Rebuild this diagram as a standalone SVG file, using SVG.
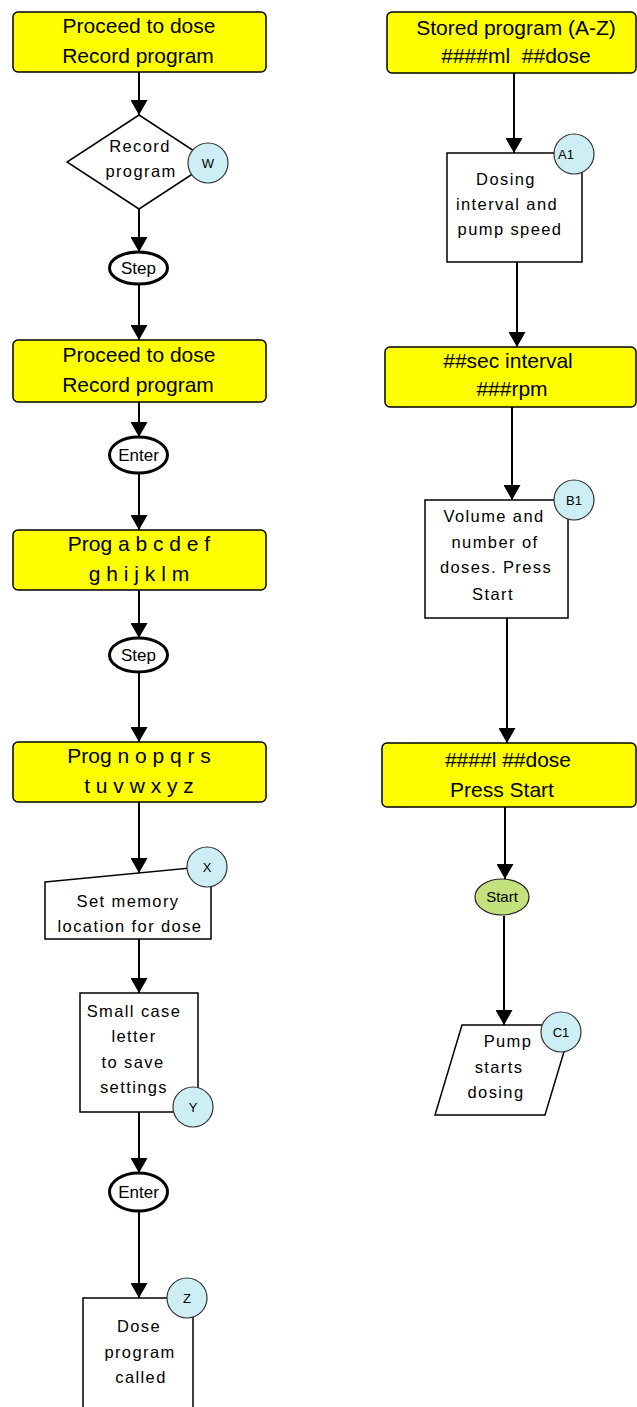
<svg xmlns="http://www.w3.org/2000/svg" width="637" height="1407" viewBox="0 0 637 1407">
<style>
text{font-family:"Liberation Sans",Arial,sans-serif;fill:#000;text-anchor:middle}
.yb{fill:#ffff00;stroke:#000;stroke-width:1.5}
.yt{font-size:21px}
.wb{fill:#fff;stroke:#000;stroke-width:1.5}
.wt{font-size:16.5px;letter-spacing:1.4px}
.ov{fill:#fff;stroke:#000;stroke-width:3}
.ot{font-size:17px}
.cc{fill:#cdeef4;stroke:#333;stroke-width:1.2}
.ct{font-size:13px}
.ln{stroke:#000;stroke-width:2;fill:none;marker-end:url(#ah)}
</style>
<defs>
<marker id="ah" markerUnits="userSpaceOnUse" markerWidth="16" markerHeight="17" viewBox="0 0 15 17" refX="15" refY="8.5" orient="auto">
<path d="M0,0 L15,8.5 L0,17 z" fill="#000"/>
</marker>
</defs>
<g id="connectors">
<line class="ln" x1="139" y1="72" x2="139" y2="115"/>
<line class="ln" x1="139" y1="209" x2="139" y2="252"/>
<line class="ln" x1="139" y1="284" x2="139" y2="340"/>
<line class="ln" x1="139" y1="402" x2="139" y2="437"/>
<line class="ln" x1="139" y1="473" x2="139" y2="530"/>
<line class="ln" x1="139" y1="590" x2="139" y2="638"/>
<line class="ln" x1="139" y1="673" x2="139" y2="742"/>
<line class="ln" x1="139" y1="802" x2="139" y2="873"/>
<line class="ln" x1="139" y1="939" x2="139" y2="993"/>
<line class="ln" x1="139" y1="1112" x2="139" y2="1173"/>
<line class="ln" x1="139" y1="1211" x2="139" y2="1298"/>
<line class="ln" x1="514" y1="73" x2="514" y2="153"/>
<line class="ln" x1="517" y1="262" x2="517" y2="347"/>
<line class="ln" x1="512" y1="407" x2="512" y2="500"/>
<line class="ln" x1="507" y1="618" x2="507" y2="743"/>
<line class="ln" x1="505" y1="807" x2="505" y2="879"/>
<line class="ln" x1="504" y1="916" x2="504" y2="1025"/>
</g>
<g id="n1">
<rect class="yb" x="13" y="12" width="253" height="60" rx="5"/>
<text class="yt" x="139" y="33">Proceed to dose</text>
<text class="yt" x="138" y="63">Record program</text>
</g>
<g id="n2">
<polygon class="wb" points="139,115 211,162 139,209 67,162"/>
<text class="wt" x="140" y="152">Record</text>
<text class="wt" x="141" y="177">program</text>
</g>
<g id="cW">
<circle class="cc" cx="208" cy="163" r="20"/>
<text class="ct" x="208" y="168">W</text>
</g>
<g id="n3">
<ellipse class="ov" cx="138.5" cy="268" rx="29" ry="16"/>
<text class="ot" x="138.5" y="274">Step</text>
</g>
<g id="n4">
<rect class="yb" x="13" y="340" width="253" height="62" rx="5"/>
<text class="yt" x="139" y="362">Proceed to dose</text>
<text class="yt" x="138" y="392">Record program</text>
</g>
<g id="n5">
<ellipse class="ov" cx="138.5" cy="455" rx="29" ry="18"/>
<text class="ot" x="138.5" y="461">Enter</text>
</g>
<g id="n6">
<rect class="yb" x="13" y="530" width="253" height="60" rx="5"/>
<text class="yt" x="139" y="551">Prog a b c d e f</text>
<text class="yt" x="139" y="581">g h i j k l m</text>
</g>
<g id="n7">
<ellipse class="ov" cx="138.5" cy="655" rx="29" ry="17"/>
<text class="ot" x="138.5" y="661">Step</text>
</g>
<g id="n8">
<rect class="yb" x="13" y="742" width="253" height="60" rx="5"/>
<text class="yt" x="139" y="763">Prog n o p q r s</text>
<text class="yt" x="139" y="793">t u v w x y z</text>
</g>
<g id="n9">
<polygon class="wb" points="45,882 211,866 211,939 45,939"/>
<text class="wt" x="128" y="907">Set memory</text>
<text class="wt" x="130" y="932">location for dose</text>
</g>
<g id="cX">
<circle class="cc" cx="207" cy="867" r="20"/>
<text class="ct" x="207" y="872">X</text>
</g>
<g id="n10">
<rect class="wb" x="80" y="993" width="118" height="119"/>
<text class="wt" x="134" y="1017">Small case</text>
<text class="wt" x="134" y="1042">letter</text>
<text class="wt" x="133" y="1068">to save</text>
<text class="wt" x="134" y="1093">settings</text>
</g>
<g id="cY">
<circle class="cc" cx="193" cy="1107" r="20"/>
<text class="ct" x="193" y="1112">Y</text>
</g>
<g id="n11">
<ellipse class="ov" cx="138.5" cy="1192" rx="29" ry="19"/>
<text class="ot" x="138.5" y="1198">Enter</text>
</g>
<g id="n12">
<rect class="wb" x="83" y="1298" width="110" height="130"/>
<text class="wt" x="139" y="1332">Dose</text>
<text class="wt" x="140" y="1358">program</text>
<text class="wt" x="141" y="1383">called</text>
</g>
<g id="cZ">
<circle class="cc" cx="187" cy="1298" r="20"/>
<text class="ct" x="187" y="1303">Z</text>
</g>
<g id="r1">
<rect class="yb" x="387" y="12" width="249" height="61" rx="5"/>
<text class="yt" x="516" y="35">Stored program (A-Z)</text>
<text class="yt" x="516" y="63" xml:space="preserve">####ml  ##dose</text>
</g>
<g id="r2">
<rect class="wb" x="447" y="153" width="135" height="109"/>
<text class="wt" x="506" y="185">Dosing</text>
<text class="wt" x="507" y="210">interval and</text>
<text class="wt" x="510" y="235">pump speed</text>
</g>
<g id="cA1">
<circle class="cc" cx="574" cy="154" r="20"/>
<text class="ct" x="566" y="159">A1</text>
</g>
<g id="r3">
<rect class="yb" x="385" y="347" width="251" height="60" rx="5"/>
<text class="yt" x="508" y="368">##sec interval</text>
<text class="yt" x="512" y="396">###rpm</text>
</g>
<g id="r4">
<rect class="wb" x="425" y="500" width="143" height="118"/>
<text class="wt" x="494" y="522">Volume and</text>
<text class="wt" x="495" y="548">number of</text>
<text class="wt" x="496" y="573">doses. Press</text>
<text class="wt" x="493" y="600">Start</text>
</g>
<g id="cB1">
<circle class="cc" cx="574" cy="500" r="20"/>
<text class="ct" x="574" y="505">B1</text>
</g>
<g id="r5">
<rect class="yb" x="382" y="743" width="254" height="64" rx="5"/>
<text class="yt" x="508" y="767">####l ##dose</text>
<text class="yt" x="502" y="797">Press Start</text>
</g>
<g id="r6">
<ellipse cx="502" cy="897" rx="27" ry="18" fill="#c3e27e" stroke="#222" stroke-width="1.2"/>
<text x="502" y="902" style="font-size:15px">Start</text>
</g>
<g id="r7">
<polygon class="wb" points="462,1025 572,1025 545,1115 435,1115"/>
<text class="wt" x="508" y="1047">Pump</text>
<text class="wt" x="499" y="1073">starts</text>
<text class="wt" x="496" y="1098">dosing</text>
</g>
<g id="cC1">
<circle class="cc" cx="561" cy="1032" r="20"/>
<text class="ct" x="561" y="1037">C1</text>
</g>
</svg>
